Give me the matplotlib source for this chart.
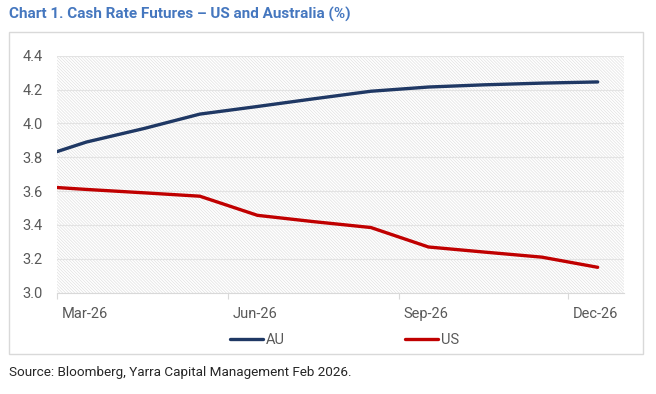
import matplotlib
matplotlib.use('Agg')
import matplotlib.pyplot as plt
from matplotlib.patches import Rectangle
from matplotlib.transforms import ScaledTranslation
import numpy as np

plt.rcParams['font.family'] = ['Roboto', 'DejaVu Sans']
plt.rcParams['hatch.color'] = '#dedede'
plt.rcParams['hatch.linewidth'] = 0.45

# monthly futures points (plotted mid-month), Feb point is clipped by the axis
dates = np.array(['2026-02-17', '2026-03-17', '2026-04-17', '2026-05-17',
                  '2026-06-17', '2026-07-17', '2026-08-17', '2026-09-17',
                  '2026-10-17', '2026-11-17', '2026-12-17'], dtype='datetime64[D]')
au = [3.79, 3.89, 3.97, 4.055, 4.10, 4.145, 4.19, 4.215, 4.228, 4.238, 4.245]
us = [3.63, 3.61, 3.59, 3.57, 3.457, 3.42, 3.385, 3.27, 3.24, 3.21, 3.15]
tick_dates = np.array(['2026-03-01', '2026-06-01', '2026-09-01', '2026-12-01'], dtype='datetime64[D]')
tick_labels = ['Mar-26', 'Jun-26', 'Sep-26', 'Dec-26']
yticks = [3.0, 3.2, 3.4, 3.6, 3.8, 4.0, 4.2, 4.4]

fig = plt.figure(figsize=(6.56, 3.94), dpi=100)
W, H = 656, 394

# outer chart frame
fig.patches.append(Rectangle((9.3 / W, 1 - 354 / H), (643.3 - 9.3) / W, (354 - 32.3) / H,
                             transform=fig.transFigure, fill=False, edgecolor='#d9d9d9', lw=1))

ax = fig.add_axes([56.7 / W, 1 - 292.7 / H, (623.7 - 56.7) / W, (292.7 - 55.7) / H])
ax.add_patch(Rectangle((0, 0), 1, 1, transform=ax.transAxes, facecolor='white',
                       edgecolor='#dedede', lw=0, hatch='\\' * 11, zorder=0.1))
ax.patch.set_alpha(0)

ax.plot(dates, au, color='#1f3864', lw=2.4, solid_capstyle='round', label='AU', zorder=3)
ax.plot(dates, us, color='#c00000', lw=2.4, solid_capstyle='round', label='US', zorder=3)

ax.set_ylim(3.0, 4.4)
ax.set_yticks(yticks)
ax.set_yticklabels([f'{v:.1f}' for v in yticks])
ax.set_xlim(np.datetime64('2026-03-01'), np.datetime64('2026-12-31'))
ax.set_xticks(tick_dates)
ax.set_xticklabels(tick_labels)

ax.grid(axis='y', color='#e3e3e3', lw=0.8)
ax.set_axisbelow(True)
for s in ['top', 'right', 'left']:
    ax.spines[s].set_visible(False)
ax.spines['bottom'].set_color('#d9d9d9')
ax.tick_params(axis='y', length=0, pad=10, labelsize=10.5, labelcolor='#595959')
ax.tick_params(axis='x', length=4, color='#d9d9d9', pad=6, labelsize=10.5, labelcolor='#595959')
off = ScaledTranslation(5 / 100, 0, fig.dpi_scale_trans)
for lab in ax.get_xticklabels():
    lab.set_horizontalalignment('left')
    lab.set_transform(lab.get_transform() + off)

fig.legend(loc='center', bbox_to_anchor=(0.525, 1 - 340 / H), ncol=2, frameon=False,
           fontsize=10.5, handlelength=2.3, handletextpad=0.2, columnspacing=8.2,
           labelcolor='#595959')

fig.text(9.3 / W, 1 - 14 / H, 'Chart 1. Cash Rate Futures \u2013 US and Australia (%)',
         fontsize=11, fontweight='bold', color='#4577bf', va='center', ha='left')
fig.text(9.3 / W, 1 - 372.7 / H, 'Source: Bloomberg, Yarra Capital Management Feb 2026.',
         fontsize=9.7, color='#262626', va='center', ha='left')

fig.savefig('out.png', dpi=100)
